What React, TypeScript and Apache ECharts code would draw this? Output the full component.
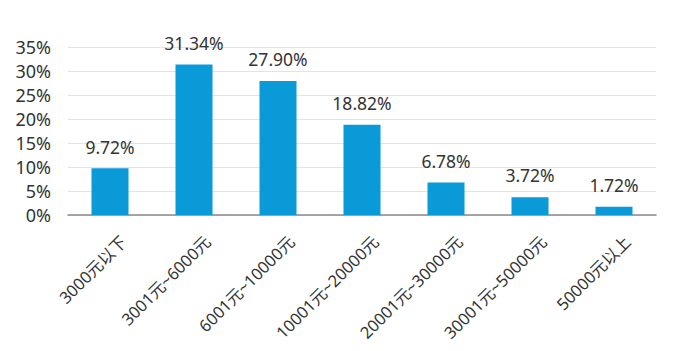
import React, { useEffect, useRef } from "react";
import * as echarts from "echarts";

const categories = [
  "3000元以下",
  "3001元~6000元",
  "6001元~10000元",
  "10001元~20000元",
  "20001元~30000元",
  "30001元~50000元",
  "50000元以上",
];
const values = [9.72, 31.34, 27.9, 18.82, 6.78, 3.72, 1.72];
const yTicks = [0, 5, 10, 15, 20, 25, 30, 35];

const FONT = "'Noto Sans', 'Noto Sans CJK SC', sans-serif";

export default function App() {
  const ref = useRef<HTMLDivElement>(null);
  useEffect(() => {
    document.body.style.margin = "0";
    if (!ref.current) return;
    const chart = echarts.init(ref.current, null, { renderer: "svg" });
    chart.setOption({
      animation: false,
      backgroundColor: "#ffffff",
      grid: { left: 68, right: 44, top: 47, bottom: 136 },
      xAxis: {
        type: "category",
        data: categories,
        axisLine: { lineStyle: { color: "#8a8a8a", width: 1.5 } },
        axisTick: { show: false },
        axisLabel: {
          rotate: 45,
          interval: 0,
          margin: 37,
          color: "#333333",
          fontSize: 16.5,
          fontFamily: FONT,
          padding: [0, -19, 0, 0],
        },
      },
      yAxis: {
        type: "value",
        min: yTicks[0],
        max: yTicks[yTicks.length - 1],
        interval: 5,
        axisLine: { show: false },
        axisTick: { show: false },
        splitLine: { lineStyle: { color: "#e3e3e3", width: 1 } },
        axisLabel: {
          formatter: "{value}%",
          margin: 17,
          color: "#333333",
          fontSize: 18,
          fontFamily: FONT,
        },
      },
      series: [
        {
          type: "bar",
          data: values,
          barWidth: 37,
          itemStyle: { color: "#0a9ad8" },
          label: {
            show: true,
            position: "top",
            distance: 13,
            color: "#333333",
            fontSize: 17.5,
            fontFamily: FONT,
            formatter: (p: any) => p.value.toFixed(2) + "%",
          },
        },
      ],
    });
    return () => chart.dispose();
  }, []);
  return <div ref={ref} style={{ width: 700, height: 351 }} />;
}
